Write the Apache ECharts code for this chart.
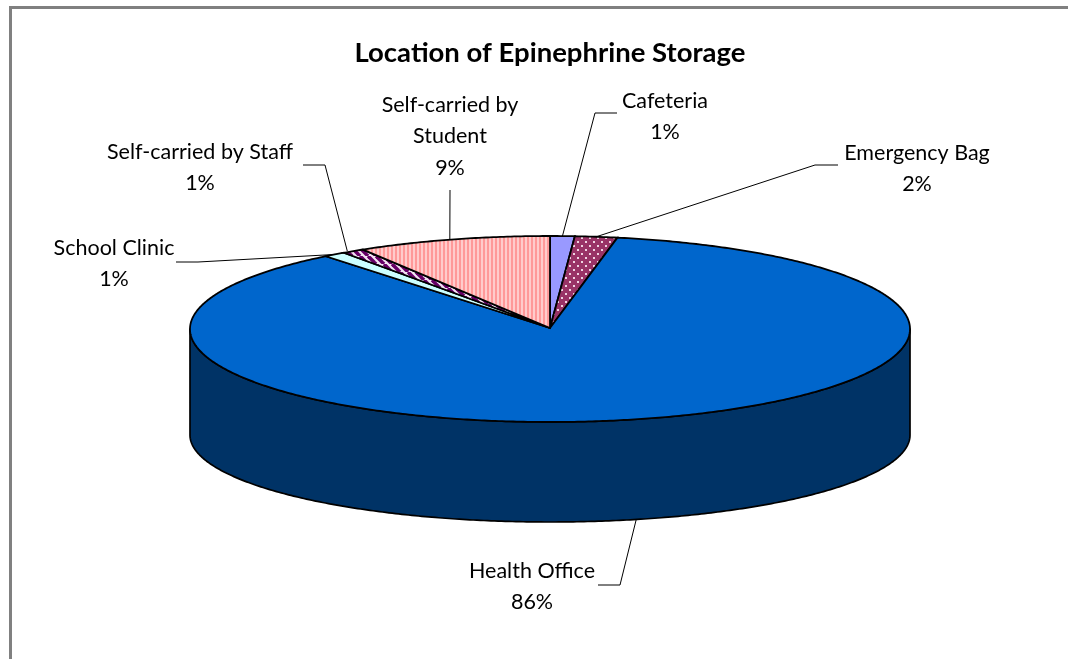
<!DOCTYPE html>
<html><head><meta charset="utf-8">
<style>html,body{margin:0;padding:0;background:#fff}#c{width:1068px;height:659px}</style>
<script src="https://cdn.jsdelivr.net/npm/echarts@6/dist/echarts.min.js"></script>
</head><body><div id="c"></div>
<script>
const categories = ['Cafeteria','Emergency Bag','Health Office','School Clinic','Self-carried by Staff','Self-carried by\nStudent'];
const shares = [1.1,1.9,86.3,1.0,1.0,8.7];

// layout only
const labelCentres = [[665,100],[917,152],[532,570],[114,247],[200,151],[450,104]];
const leaderBends = [[[595,113],[617,113]],[[815,165],[838,165]],[[620,585],[598,585]],[[198,262],[176,262]],[[325,165],[303,165]],[[450,190]]];
const leaderShift = [0,0,0,0,-6,-3];
const TOP = {cx:550,cy:329,rx:360,ry:93};
const BASE = {cy:435,ry:87};
const FONT = 'Lato, "Open Sans", sans-serif';

function tile(w,h,draw){const c=document.createElement('canvas');c.width=w;c.height=h;const g=c.getContext('2d');draw(g);return {image:c,repeat:'repeat'};}
const fills = [
  '#9999FF',
  tile(8,8,g=>{g.fillStyle='#993366';g.fillRect(0,0,8,8);g.fillStyle='#F0D4E2';g.fillRect(1,1,2,2);g.fillRect(5,5,2,2);}),
  '#0066CC',
  '#CCFFFF',
  tile(8,8,g=>{g.fillStyle='#F3E6F3';g.fillRect(0,0,8,8);g.strokeStyle='#660066';g.lineWidth=3.6;
    for(let i=-8;i<=16;i+=8){g.beginPath();g.moveTo(i,0);g.lineTo(i+8,8);g.stroke();}}),
  tile(4,4,g=>{g.fillStyle='#FF9999';g.fillRect(0,0,4,4);g.fillStyle='#FFCCCC';g.fillRect(1,0,2,4);})
];
const total = shares.reduce((a,b)=>a+b,0);
const starts = shares.map((_,i)=>shares.slice(0,i).reduce((a,b)=>a+b,0)/total*2*Math.PI);
function pt(t,e){e=e||TOP;return [TOP.cx+TOP.rx*Math.sin(t),e.cy-e.ry*Math.cos(t)];}
function arc(a,b,e){const n=Math.max(2,Math.ceil((b-a)/0.01));const r=[];for(let i=0;i<=n;i++)r.push(pt(a+(b-a)*i/n,e));return r;}

function renderItem(params,api){
  const i=params.dataIndex, a=starts[i], b=a+shares[i]/total*2*Math.PI, kids=[];
  const loA=Math.max(a,Math.PI/2), hiB=Math.min(b,Math.PI*1.5);
  if(hiB>loA){
    kids.push({type:'polygon',shape:{points:arc(loA,hiB,TOP).concat(arc(loA,hiB,BASE).reverse())},
      style:{fill:'#003366',stroke:'#000',lineWidth:1.7,lineJoin:'round'}});
  }
  kids.push({type:'polygon',shape:{points:[[TOP.cx,TOP.cy-1]].concat(arc(a,b,TOP))},
    style:{fill:fills[i],stroke:'#000',lineWidth:1.8,lineJoin:'miter'}});
  return {type:'group',children:kids};
}
function renderLabels(params,api){
  const i=params.dataIndex, a=starts[i], mid=a+shares[i]/total*Math.PI;
  const front=Math.cos(mid)<0;
  const base=pt(mid,front?BASE:TOP);
  const anchor=[base[0]+leaderShift[i],base[1]];
  const pct=Math.round(shares[i]/total*100)+'%';
  return {type:'group',children:[
    {type:'polyline',shape:{points:[anchor].concat(leaderBends[i])},style:{fill:null,stroke:'#000',lineWidth:1}},
    {type:'text',style:{text:categories[i]+'\n'+pct,x:labelCentres[i][0],y:labelCentres[i][1],align:'center',verticalAlign:'top',
      font:'21.5px '+FONT,fill:'#000',lineHeight:31.5},
      y:-15}
  ]};
}
const chart=echarts.init(document.getElementById('c'),null,{renderer:'canvas'});
chart.setOption({
  animation:false,backgroundColor:'#fff',
  title:{text:'Location of Epinephrine Storage',left:545,top:34,textAlign:'center',
    textStyle:{fontFamily:FONT,fontWeight:'bold',fontSize:27.5,color:'#000'}},
  graphic:[
    {type:'rect',shape:{x:9,y:6,width:1059,height:3},style:{fill:'#808080'},silent:true},
    {type:'rect',shape:{x:9,y:6,width:3,height:653},style:{fill:'#808080'},silent:true}
  ],
  series:[
    {type:'custom',coordinateSystem:'none',renderItem,data:categories.map((c,i)=>({name:c,value:shares[i]})),silent:true,z:2},
    {type:'custom',coordinateSystem:'none',renderItem:renderLabels,data:categories.map((c,i)=>({name:c,value:shares[i]})),silent:true,z:3}
  ]
});
</script></body></html>
